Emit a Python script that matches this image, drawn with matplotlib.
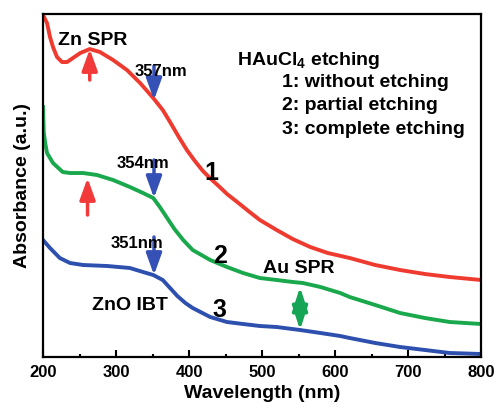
import matplotlib
matplotlib.use("Agg")
import matplotlib.pyplot as plt

plt.rcParams['font.family'] = ['Liberation Sans', 'DejaVu Sans']
plt.rcParams['font.weight'] = 'bold'
plt.rcParams['mathtext.fontset'] = 'custom'
plt.rcParams['mathtext.rm'] = 'Liberation Sans:bold'
plt.rcParams['mathtext.bf'] = 'Liberation Sans:bold'

# spectra (arbitrary absorbance units)
wl_1 = [200, 205.5, 209.6, 213.7, 219.2, 226, 233, 241, 251, 264, 278, 296, 315, 333, 351, 364, 374,
        386, 397, 408, 419, 430, 442, 452, 466, 483, 497, 520, 542, 566, 590, 620, 655, 689, 723, 757, 800]
abs_1 = [3.42, 3.34, 3.20, 3.10, 3.00, 2.95, 2.95, 2.99, 3.04, 3.08, 3.05, 2.97, 2.87, 2.74, 2.59, 2.47, 2.35,
         2.20, 2.07, 1.96, 1.86, 1.78, 1.70, 1.63, 1.55, 1.45, 1.37, 1.27, 1.18, 1.10, 1.04, 0.99, 0.92, 0.87, 0.83, 0.80, 0.77]

wl_2 = [200, 201, 203, 205.5, 213.7, 227, 237, 255, 274, 296, 319, 337, 351, 360, 370, 380,
        392, 405, 429, 452, 474, 497, 520, 542, 556, 580, 607, 620, 655, 689, 723, 757, 800]
abs_2 = [2.50, 2.25, 2.14, 2.04, 1.94, 1.85, 1.84, 1.84, 1.82, 1.77, 1.70, 1.64, 1.59, 1.50, 1.39, 1.28,
         1.17, 1.07, 0.97, 0.90, 0.84, 0.79, 0.77, 0.75, 0.74, 0.70, 0.64, 0.60, 0.52, 0.44, 0.39, 0.35, 0.33]

wl_3 = [200, 209.6, 223, 237, 255, 288, 319, 337, 351, 364, 374, 384, 395, 405, 429, 452, 474, 497, 520,
        552, 580, 607, 620, 655, 689, 723, 757, 800]
abs_3 = [1.17, 1.09, 0.99, 0.94, 0.92, 0.91, 0.89, 0.85, 0.82, 0.77, 0.69, 0.61, 0.54, 0.49, 0.40, 0.35, 0.33, 0.31, 0.30,
         0.27, 0.24, 0.21, 0.19, 0.14, 0.10, 0.07, 0.04, 0.03]

fig = plt.figure(figsize=(4.96, 4.08), dpi=100)
ax = fig.add_axes([0.0867, 0.125, 0.8833, 0.8406])

ax.plot(wl_1, abs_1, color='#ee3a2f', lw=2.8, solid_joinstyle='round')
ax.plot(wl_2, abs_2, color='#1aa84c', lw=2.8, solid_joinstyle='round')
ax.plot(wl_3, abs_3, color='#2d4fae', lw=2.8, solid_joinstyle='round')

ax.set_xlim(200, 800)
ax.set_ylim(0, 3.43)
ax.set_xticks(range(200, 801, 100))
ax.set_xticks(range(250, 800, 100), minor=True)
ax.set_yticks([])
ax.tick_params(axis='x', which='major', direction='in', length=5, width=1.5, labelsize=12, pad=6)
ax.tick_params(axis='x', which='minor', direction='in', length=2.5, width=1.5)
for s in ax.spines.values():
    s.set_linewidth(1.6)
ax.set_xlabel('Wavelength (nm)', fontsize=14, fontweight='bold', labelpad=3)
ax.set_ylabel('Absorbance (a.u.)', fontsize=14, fontweight='bold', labelpad=9)

def arrow(x, y0, y1, color, style='-|>,head_width=0.47,head_length=1.3'):
    ax.annotate('', xy=(x, y1), xytext=(x, y0),
                arrowprops=dict(arrowstyle=style, color=color, lw=2.5,
                                mutation_scale=10, shrinkA=0, shrinkB=0))

arrow(264, 2.77, 3.08, '#f23a3a')
arrow(261, 1.42, 1.79, '#f23a3a')
arrow(352, 2.91, 2.57, '#3551b5')
arrow(352, 1.97, 1.59, '#3551b5')
arrow(352, 1.20, 0.82, '#3551b5')
arrow(552, 0.70, 0.27, '#16a555', '<|-|>,head_width=0.47,head_length=1.45')

ax.text(220, 3.12, 'Zn SPR', fontsize=14, va='baseline')
ax.text(326, 2.81, '357nm', fontsize=12, va='baseline')
ax.text(301, 1.89, '354nm', fontsize=12, va='baseline')
ax.text(292, 1.09, '351nm', fontsize=12, va='baseline')
ax.text(431, 1.77, '1', fontsize=18, ha='center', va='baseline')
ax.text(442, 0.94, '2', fontsize=18, ha='center', va='baseline')
ax.text(442, 0.40, '3', fontsize=18, ha='center', va='baseline')
ax.text(267, 0.47, 'ZnO IBT', fontsize=14, va='baseline')
ax.text(501, 0.84, 'Au SPR', fontsize=14, va='baseline')

ax.text(466, 2.92, r'HAuCl$_\mathbf{4}$ etching', fontsize=14, va='baseline')
ax.text(527, 2.70, '1: without etching', fontsize=14, va='baseline')
ax.text(527, 2.47, '2: partial etching', fontsize=14, va='baseline')
ax.text(527, 2.23, '3: complete etching', fontsize=14, va='baseline')

fig.savefig('out.png', dpi=100)
